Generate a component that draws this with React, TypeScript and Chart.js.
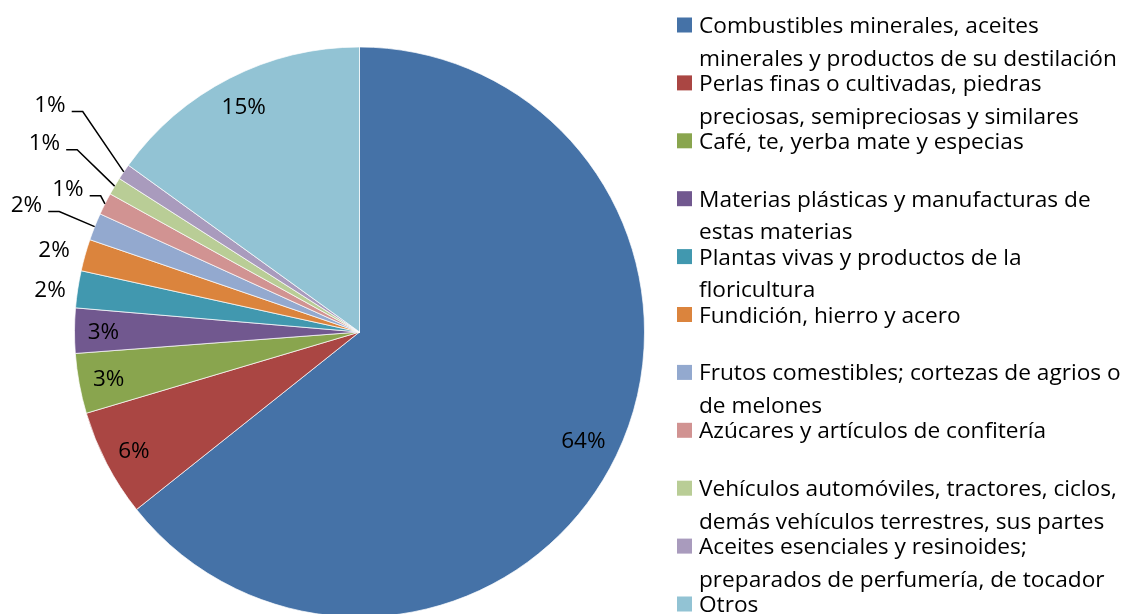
import React, { useEffect, useRef } from "react";
import { Chart, registerables } from "chart.js";

Chart.register(...registerables);

// ---------- data ----------
const categories: string[][] = [
  ["Combustibles minerales, aceites", "minerales y productos de su destilación"],
  ["Perlas finas o cultivadas, piedras", "preciosas, semipreciosas y similares"],
  ["Café, te, yerba mate y especias"],
  ["Materias plásticas y manufacturas de", "estas materias"],
  ["Plantas vivas y productos de la", "floricultura"],
  ["Fundición, hierro y acero"],
  ["Frutos comestibles; cortezas de agrios o", "de melones"],
  ["Azúcares y artículos de confitería"],
  ["Vehículos automóviles, tractores, ciclos,", "demás vehículos terrestres, sus partes"],
  ["Aceites esenciales y resinoides;", "preparados de perfumería, de tocador"],
  ["Otros"],
];

const values: number[] = [64.3, 6.1, 3.4, 2.55, 2.1, 1.8, 1.55, 1.25, 1.0, 0.9, 15.05];

const colors: string[] = [
  "#4572A7", "#AA4643", "#89A54E", "#71588F", "#4198AF", "#DB843D",
  "#93A9CF", "#D19392", "#B9CD96", "#A99BBD", "#92C3D4",
];

// ---------- style / layout ----------
const LABEL_FONT = '"Open Sans", Lato, sans-serif';
const LEGEND_FONT = '"Open Sans", Lato, sans-serif';
const LABEL_SIZE = 22.5;
// legend font size is fitted so this reference line spans this width
const LEGEND_REF_LINE = "minerales y productos de su destilación";
const LEGEND_REF_WIDTH = 418;
const INSIDE_PAD = 13;
// outside labels: offset of label centre from the slice's rim point
const OUTSIDE: Record<number, { dx: number; dy: number; leader: boolean }> = {
  4: { dx: -27.7, dy: -0.4, leader: false },
  5: { dx: -31, dy: -6, leader: false },
  6: { dx: -68.2, dy: -23.1, leader: true },
  7: { dx: -37, dy: -16, leader: true },
  8: { dx: -70.2, dy: -44.5, leader: true },
  9: { dx: -73.8, dy: -68.3, leader: true },
};
const LEGEND = { x: 677, box: 15, textX: 699, firstY: 25, step: 57.9, lineGap: 32.7 };

const total = values.reduce((a, b) => a + b, 0);
const pctText = (v: number) => `${Math.round((v / total) * 100)}%`;

const pieLabels = {
  id: "pieLabels",
  afterDatasetsDraw(chart: any) {
    const ctx = chart.ctx as CanvasRenderingContext2D;
    const meta = chart.getDatasetMeta(0);
    ctx.save();
    ctx.font = `${LABEL_SIZE}px ${LABEL_FONT}`;
    ctx.fillStyle = "#000";
    ctx.strokeStyle = "#000";
    ctx.lineWidth = 1.5;
    ctx.textAlign = "center";
    ctx.textBaseline = "alphabetic";
    meta.data.forEach((arc: any, i: number) => {
      const p = arc.getProps(["x", "y", "startAngle", "endAngle", "outerRadius"], true);
      const mid = (p.startAngle + p.endAngle) / 2;
      const ux = Math.cos(mid);
      const uy = Math.sin(mid);
      const text = pctText(values[i]);
      const m = ctx.measureText(text);
      const hw = m.width / 2;
      const cap = m.actualBoundingBoxAscent;
      const hh = cap / 2;
      const out = OUTSIDE[i];
      let lx: number, ly: number;
      if (!out) {
        const R = p.outerRadius - INSIDE_PAD;
        const b = Math.abs(ux) * hw + Math.abs(uy) * hh;
        const c = hw * hw + hh * hh - R * R;
        const r = -b + Math.sqrt(b * b - c);
        lx = p.x + r * ux;
        ly = p.y + r * uy;
      } else {
        const ex = p.x + p.outerRadius * ux;
        const ey = p.y + p.outerRadius * uy;
        lx = ex + out.dx;
        ly = ey + out.dy;
        if (out.leader) {
          const sx = lx + hw + 6;
          const sy = ly + hh;
          ctx.beginPath();
          ctx.moveTo(sx, sy);
          ctx.lineTo(sx + 11, sy);
          ctx.lineTo(ex, ey);
          ctx.stroke();
        }
      }
      ctx.fillText(text, lx, ly + hh);
    });
    ctx.restore();
  },
};

const sideLegend = {
  id: "sideLegend",
  afterDraw(chart: any) {
    const ctx = chart.ctx as CanvasRenderingContext2D;
    ctx.save();
    ctx.font = `20px ${LEGEND_FONT}`;
    const w20 = ctx.measureText(LEGEND_REF_LINE).width;
    const size = (20 * LEGEND_REF_WIDTH) / w20;
    ctx.font = `${size}px ${LEGEND_FONT}`;
    ctx.textAlign = "left";
    ctx.textBaseline = "alphabetic";
    const capM = ctx.measureText("C").actualBoundingBoxAscent;
    categories.forEach((lines, i) => {
      const cy = LEGEND.firstY + i * LEGEND.step;
      ctx.fillStyle = colors[i];
      ctx.fillRect(LEGEND.x, cy - LEGEND.box / 2, LEGEND.box, LEGEND.box);
      ctx.fillStyle = "#000";
      lines.forEach((ln, j) => {
        ctx.fillText(ln, LEGEND.textX, cy + capM / 2 + j * LEGEND.lineGap);
      });
    });
    ctx.restore();
  },
};

export default function App() {
  const ref = useRef<HTMLCanvasElement | null>(null);
  useEffect(() => {
    document.body.style.margin = "0";
    const chart = new Chart(ref.current!, {
      type: "pie",
      data: {
        labels: categories,
        datasets: [
          {
            data: values,
            backgroundColor: colors,
            borderColor: "rgba(255,255,255,0.7)",
            borderWidth: 1,
            clip: false as any,
          },
        ],
      },
      options: {
        responsive: false,
        animation: false,
        devicePixelRatio: 1,
        radius: 285,
        layout: { padding: { left: 0, right: 419, top: 50, bottom: 0 } },
        plugins: { legend: { display: false }, tooltip: { enabled: false } },
      } as any,
      plugins: [pieLabels, sideLegend],
    });
    return () => chart.destroy();
  }, []);
  return (
    <div style={{ width: 1138, height: 614, overflow: "hidden", background: "#fff" }}>
      <canvas ref={ref} width={1138} height={614} style={{ display: "block" }} />
    </div>
  );
}
